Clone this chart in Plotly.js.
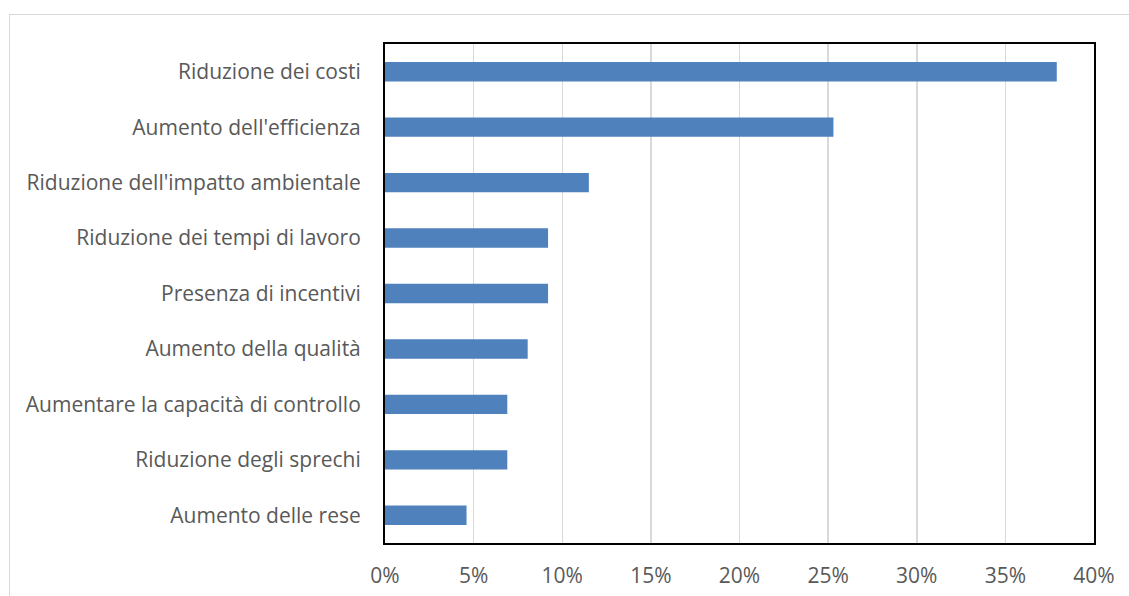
<!DOCTYPE html>
<html>
<head>
<meta charset="utf-8">
<script src="https://cdn.plot.ly/plotly-3.0.1.min.js"></script>
<style>
html,body{margin:0;padding:0;background:#fff;overflow:hidden;}
#frame{position:absolute;left:9px;top:14px;width:1200px;height:700px;border:1.5px solid #d9d9d9;box-sizing:border-box;}
#chart{position:absolute;left:0;top:0;width:1129px;height:596px;}
</style>
</head>
<body>
<div id="frame"></div>
<div id="chart"></div>
<script>
const categories = [
  "Riduzione dei costi",
  "Aumento dell'efficienza",
  "Riduzione dell'impatto ambientale",
  "Riduzione dei tempi di lavoro",
  "Presenza di incentivi",
  "Aumento della qualità",
  "Aumentare la capacità di controllo",
  "Riduzione degli sprechi",
  "Aumento delle rese"
];
const values = [0.379, 0.253, 0.115, 0.092, 0.092, 0.0805, 0.069, 0.069, 0.046];
const tickVals = [0, 0.05, 0.10, 0.15, 0.20, 0.25, 0.30, 0.35, 0.40];
const tickText = ["0%", "5%", "10%", "15%", "20%", "25%", "30%", "35%", "40%"];

const font = {family: "'Open Sans', sans-serif", size: 21, color: "#595959"};

Plotly.newPlot("chart", [{
  type: "bar",
  orientation: "h",
  x: values,
  y: categories,
  marker: {color: "#4f81bd"},
  hoverinfo: "skip"
}], {
  width: 1129, height: 596,
  margin: {l: 385, r: 35, t: 44, b: 53, pad: 0},
  paper_bgcolor: "rgba(0,0,0,0)",
  plot_bgcolor: "#fff",
  bargap: 0.65,
  showlegend: false,
  font: font,
  xaxis: {
    range: [0, 0.40],
    tickvals: tickVals,
    ticktext: tickText,
    showgrid: true, gridcolor: "#d9d9d9", gridwidth: 1.5,
    showline: true, mirror: true, linecolor: "#000", linewidth: 2,
    zeroline: false, ticks: "",
    ticklabelstandoff: 13,
    tickfont: font
  },
  yaxis: {
    autorange: "reversed",
    showgrid: false,
    showline: true, mirror: true, linecolor: "#000", linewidth: 2,
    zeroline: false, ticks: "",
    ticklabelstandoff: 18,
    tickfont: font
  }
}, {displayModeBar: false, staticPlot: true});
</script>
</body>
</html>
